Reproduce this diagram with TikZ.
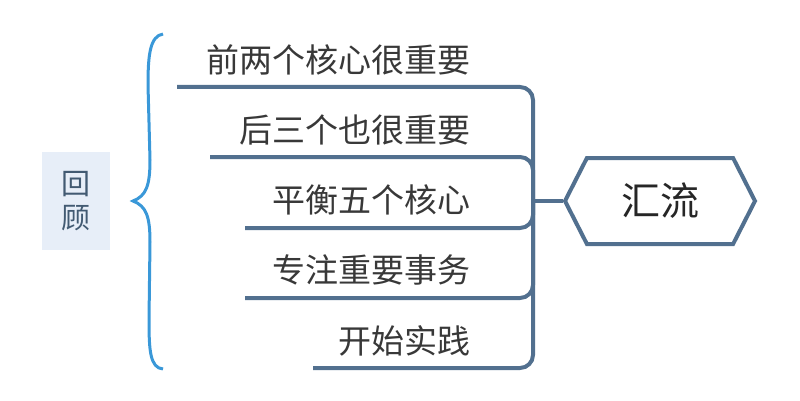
\documentclass[tikz,border=0pt]{standalone}
\usepackage{fontspec}
\newfontfamily\cjk{Noto Sans CJK SC}
\usepackage{tikz}
\usetikzlibrary{shapes.symbols,positioning}

\definecolor{barblue}{HTML}{52708F}
\definecolor{braceblue}{HTML}{3A98D8}
\definecolor{recapfill}{HTML}{E7EEF8}
\definecolor{labelgray}{HTML}{383838}

\begin{document}
\begin{tikzpicture}[
    x=1pt, y=-1pt,
    label/.style={anchor=east, inner sep=0pt, text=labelgray, font=\cjk\fontsize{33}{38}\selectfont},
    recap/.style={rectangle, fill=recapfill, minimum width=68pt, minimum height=98pt, align=center, text=barblue!80!black, font=\cjk\fontsize{29}{34}\selectfont},
    hub/.style={signal, signal to=west and east, signal pointer angle=126, draw=barblue, line width=4pt, minimum width=190pt, minimum height=86pt, inner sep=0pt, text=black!85, font=\cjk\fontsize{39}{44}\selectfont},
    bar/.style={draw=barblue, line width=4pt, rounded corners=13pt}
]
    \useasboundingbox (0,0) rectangle (800,401);

    % Recap and brace
    \node[recap] (recap) at (76,201) {回\\顾};
    \coordinate (brace_tip) at (133,201);
    \draw[braceblue, line width=3pt] (163,34) .. controls (150,36) and (148,55) .. (148,85) -- (150,160)
        .. controls (150,186) and (146,196) .. (brace_tip)
        .. controls (146,206) and (150,216) .. (150,242) -- (149,320)
        .. controls (149,350) and (150,368) .. (163,369);

    % Labels
    \node[label] (core_two) at (471,60) {前两个核心很重要};
    \node[label] (core_three) at (471,130) {后三个也很重要};
    \node[label] (balance) at (471,200) {平衡五个核心};
    \node[label] (focus) at (471,270) {专注重要事务};
    \node[label] (practice) at (471,341) {开始实践};

    % Hub
    \node[hub] (hub) at (660,201) {汇流};

    % Underline ends
    \coordinate (u1) at (177,87);
    \coordinate (u2) at (210,157);
    \coordinate (u3) at (245,228);
    \coordinate (u4) at (245,298);
    \coordinate (u5) at (313,368);
    \coordinate (join) at (533,201);

    % Connections
    \draw[bar] (u1) -- (u1 -| join) -- (u5 -| join) -- (u5);
    \draw[bar] (u2) -- (u2 -| join) -- (join);
    \draw[bar] (u3) -- (u3 -| join) -- (join);
    \draw[bar] (u4) -- (u4 -| join) -- (join);
    \draw[bar] (join) -- (hub.west);
\end{tikzpicture}
\end{document}
